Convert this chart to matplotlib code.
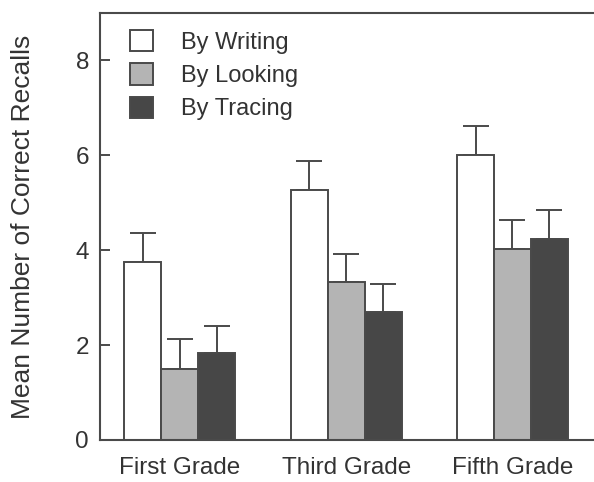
import numpy as np
import matplotlib.pyplot as plt

plt.rcParams['font.family'] = ['Liberation Sans', 'DejaVu Sans']

grades = ['First Grade', 'Third Grade', 'Fifth Grade']
series = ['By Writing', 'By Looking', 'By Tracing']
writing = [3.75, 5.27, 6.0]
looking = [1.5, 3.32, 4.02]
tracing = [1.83, 2.69, 4.23]
writing_err = [0.61, 0.62, 0.61]
looking_err = [0.63, 0.6, 0.61]
tracing_err = [0.58, 0.59, 0.61]

colors = ['white', '#b4b4b4', '#474747']
edge = '#4a4a4a'
txt = '#333333'

fig = plt.figure(figsize=(5.94, 4.82), dpi=100)
ax = fig.add_axes([100 / 594, 1 - 440 / 482, 1 - 100 / 594, (440 - 13) / 482])

x = np.arange(len(grades))
w = 0.222
values = [writing, looking, tracing]
errs = [writing_err, looking_err, tracing_err]
for i, (vals, err) in enumerate(zip(values, errs)):
    ax.bar(x + (i - 1) * w, vals, w, color=colors[i], edgecolor=edge,
           linewidth=1.4, label=series[i], zorder=2)
    ax.errorbar(x + (i - 1) * w, vals, yerr=[np.zeros(3), err], fmt='none',
                ecolor=edge, elinewidth=1.4, capsize=9.5, capthick=1.4, zorder=1)

ax.set_xlim(-0.48, 2.49)
ax.set_ylim(0, 9)
ax.set_yticks([0, 2, 4, 6, 8])
ax.set_xticks(x)
ax.set_xticklabels(grades)
ax.tick_params(axis='y', direction='in', length=7, width=1.4, color=edge,
               labelsize=17.5, pad=8, labelcolor=txt)
ax.tick_params(axis='x', length=0, labelsize=17.5, pad=12, labelcolor=txt)
for s in ['left', 'top', 'bottom']:
    ax.spines[s].set_color(edge)
    ax.spines[s].set_linewidth(1.5)
ax.spines['right'].set_visible(False)
ax.set_ylabel('Mean Number of Correct Recalls', fontsize=19, color=txt, labelpad=29)

leg = ax.legend(loc='upper left', bbox_to_anchor=(0.015, 1.012), frameon=False,
                fontsize=17, handlelength=1.0, handleheight=1.0,
                handletextpad=1.15, labelspacing=0.4, borderaxespad=0.55)
for t in leg.get_texts():
    t.set_color(txt)

fig.savefig('out.png', dpi=100)
